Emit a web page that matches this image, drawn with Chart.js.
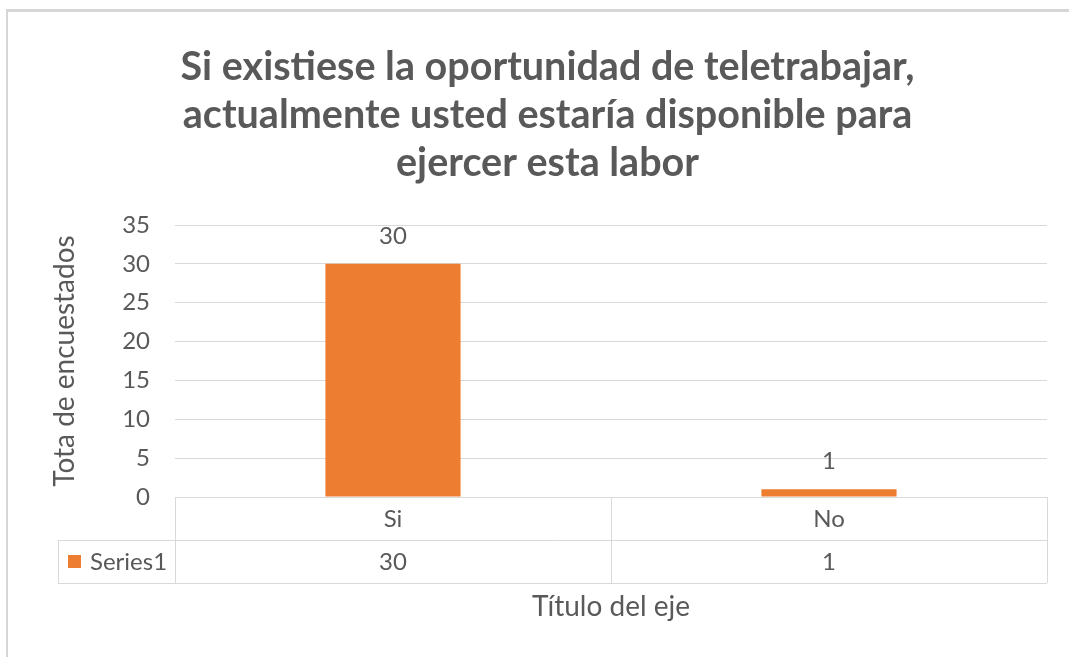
<!DOCTYPE html>
<html>
<head>
<meta charset="utf-8">
<script src="https://cdn.jsdelivr.net/npm/chart.js@4"></script>
<style>
  html, body { margin: 0; padding: 0; background: #fff; }
  #wrap { width: 1069px; height: 657px; position: relative; }
</style>
</head>
<body>
<div id="wrap"><canvas id="myChart" width="1069" height="657"></canvas></div>
<script>
// data
var categories = ["Si", "No"];
var seriesName = "Series1";
var seriesValues = [30, 1];
var yTicks = [0, 5, 10, 15, 20, 25, 30, 35];
var titleLines = [
    "Si existiese la oportunidad de teletrabajar,",
    "actualmente usted estaría disponible para",
    "ejercer esta labor"
];
var yTitle = "Tota de encuestados";
var xTitle = "Título del eje";

var orange = "#ED7D31";
var grey = "#595959";
var lineGrey = "#d9d9d9";
var fontName = "Lato, 'Open Sans', sans-serif";

// outer frame (top + left edge, like the screenshot)
var framePlugin = {
    id: "frame",
    beforeDraw: function (chart) {
        var ctx = chart.ctx;
        ctx.save();
        ctx.fillStyle = "#fff";
        ctx.fillRect(0, 0, chart.width, chart.height);
        ctx.fillStyle = "#d6d6d6";
        ctx.fillRect(6, 9, chart.width - 6, 3);
        ctx.fillRect(6, 9, 2, chart.height - 9);
        ctx.restore();
    }
};

// value labels above the bars
var labelPlugin = {
    id: "barLabels",
    afterDatasetsDraw: function (chart) {
        var ctx = chart.ctx;
        var meta = chart.getDatasetMeta(0);
        ctx.save();
        ctx.font = "24px " + fontName;
        ctx.fillStyle = grey;
        ctx.textAlign = "center";
        ctx.textBaseline = "alphabetic";
        meta.data.forEach(function (bar, i) {
            ctx.fillText(String(seriesValues[i]), bar.x, bar.y - 20);
        });
        ctx.restore();
    }
};

// data table under the plot (Excel style)
var tablePlugin = {
    id: "dataTable",
    afterDraw: function (chart) {
        var ctx = chart.ctx;
        var area = chart.chartArea;
        var xs = chart.scales.x;
        var rowH = 43;
        var top = area.bottom;
        var mid = top + rowH;
        var bot = mid + rowH;
        var keyLeft = 58;
        var step = (area.right - area.left) / categories.length;

        ctx.save();
        ctx.strokeStyle = lineGrey;
        ctx.lineWidth = 1;
        ctx.beginPath();
        // horizontals
        ctx.moveTo(area.left, top + 0.5); ctx.lineTo(area.right, top + 0.5);
        ctx.moveTo(keyLeft, mid + 0.5); ctx.lineTo(area.right, mid + 0.5);
        ctx.moveTo(keyLeft, bot + 0.5); ctx.lineTo(area.right, bot + 0.5);
        // verticals
        for (var i = 0; i <= categories.length; i++) {
            var vx = Math.round(area.left + step * i) + 0.5;
            ctx.moveTo(vx, top); ctx.lineTo(vx, bot);
        }
        ctx.moveTo(keyLeft + 0.5, mid); ctx.lineTo(keyLeft + 0.5, bot);
        ctx.stroke();

        // values row
        ctx.font = "24px " + fontName;
        ctx.fillStyle = grey;
        ctx.textAlign = "center";
        ctx.textBaseline = "middle";
        seriesValues.forEach(function (v, i) {
            ctx.fillText(String(v), xs.getPixelForValue(i), mid + rowH / 2 + 1);
        });

        // legend key
        ctx.fillStyle = orange;
        ctx.fillRect(68, mid + 15, 13, 13);
        ctx.fillStyle = grey;
        ctx.textAlign = "left";
        ctx.fillText(seriesName, 90, mid + rowH / 2 + 1);
        ctx.restore();
    }
};

var ctx = document.getElementById("myChart").getContext("2d");
new Chart(ctx, {
    type: "bar",
    data: {
        labels: categories,
        datasets: [
            {
                label: seriesName,
                data: seriesValues,
                backgroundColor: orange,
                borderWidth: 0,
                barPercentage: 0.31,
                categoryPercentage: 1
            }
        ]
    },
    options: {
        responsive: false,
        animation: false,
        devicePixelRatio: 1,
        // left padding shifts the chart title right, y axis width makes up for it
        layout: { padding: { left: 48, right: 22, top: 0, bottom: 0 } },
        plugins: {
            legend: { display: false },
            tooltip: { enabled: false },
            title: {
                display: true,
                text: titleLines,
                color: grey,
                font: { family: fontName, size: 39.5, weight: "bold", lineHeight: 48 / 39.5 },
                padding: { top: 43, bottom: 38 }
            }
        },
        scales: {
            x: {
                grid: { display: false, drawTicks: false },
                border: { display: true, color: lineGrey },
                ticks: {
                    color: grey,
                    padding: 8,
                    font: { family: fontName, size: 24 }
                },
                title: {
                    display: true,
                    text: xTitle,
                    color: grey,
                    font: { family: fontName, size: 28 },
                    padding: { top: 0, bottom: 33 }
                },
                afterFit: function (scale) { scale.height = 160; }
            },
            y: {
                min: 0,
                max: yTicks[yTicks.length - 1],
                afterBuildTicks: function (scale) {
                    scale.ticks = yTicks.map(function (v) { return { value: v }; });
                },
                grid: { color: lineGrey, drawTicks: false },
                border: { display: false },
                ticks: {
                    color: grey,
                    padding: 25,
                    font: { family: fontName, size: 24 }
                },
                title: {
                    display: true,
                    text: yTitle,
                    color: grey,
                    font: { family: fontName, size: 28 },
                    padding: { top: 0, bottom: 0 }
                },
                afterFit: function (scale) { scale.width = 127; }
            }
        }
    },
    plugins: [framePlugin, labelPlugin, tablePlugin]
});
</script>
</body>
</html>
